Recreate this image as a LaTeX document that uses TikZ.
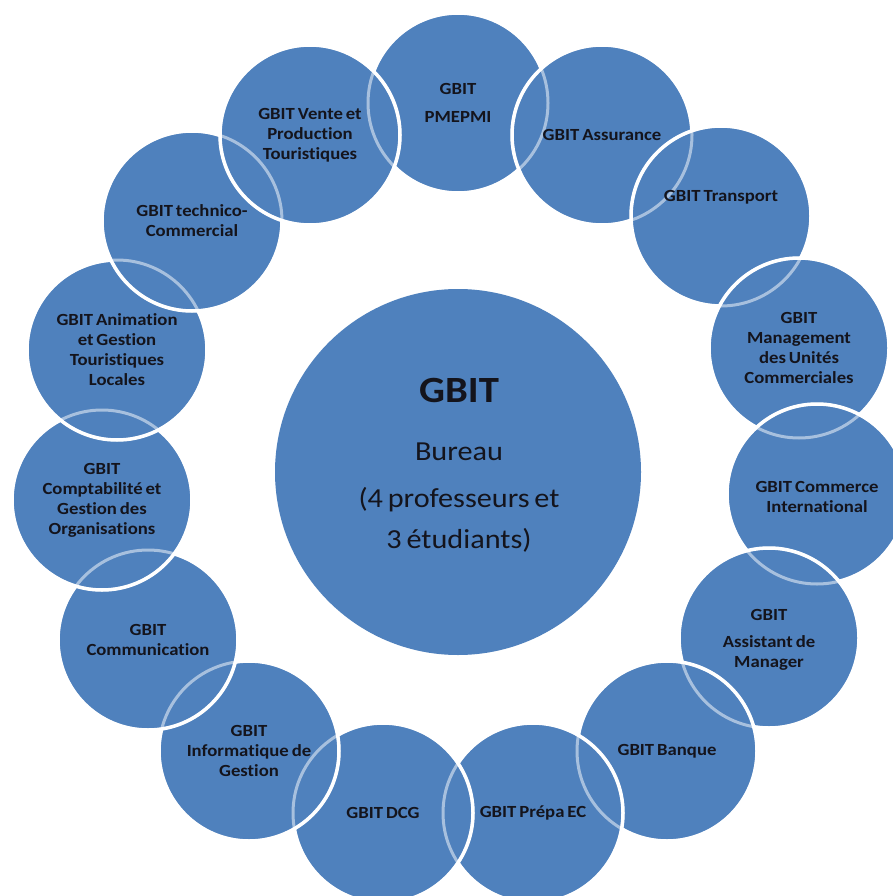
\documentclass[tikz,border=0pt]{standalone}
\usepackage{fontspec}
\setmainfont{Carlito}
\newfontfamily\gbfont{Carlito}[FakeStretch=1.1, WordSpace=0.7, Ligatures=NoCommon]
\definecolor{gbblue}{RGB}{79,129,189}
\definecolor{gbtext}{RGB}{20,20,28}
\tikzset{
  sat/.style={circle, fill=gbblue, draw=white, line width=3.5pt, minimum size=180pt, inner sep=0pt},
  ghost/.style={draw=white, draw opacity=0.5, line width=3pt},
  lbl/.style={align=center, text=gbtext, inner sep=0pt,
    font=\gbfont\bfseries\fontsize{17}{20}\selectfont},
  big/.style={anchor=base, text=gbtext, inner sep=0pt,
    font=\gbfont\fontsize{27.5}{30}\selectfont},
  bigb/.style={anchor=base, text=gbtext, inner sep=0pt,
    font=\gbfont\bfseries\fontsize{37}{40}\selectfont}
}
\begin{document}
\begin{tikzpicture}[x=1pt,y=-1pt]
\fill[white] (0,0) rectangle (892,896);
\useasboundingbox (0,0) rectangle (892,896);
% central circle
\node[circle, fill=gbblue, minimum size=366pt, inner sep=0pt] (core) at (458,472) {};
% satellites, drawn clockwise from the top
\node[sat] (s1) at (458,103) {};
\node[sat] (s2) at (602,135) {};
\node[sat] (s3) at (721,216) {};
\node[sat] (s4) at (799,348) {};
\node[sat] (s5) at (817,494) {};
\node[sat] (s6) at (769,638) {};
\node[sat] (s7) at (667,751) {};
\node[sat] (s8) at (533,813) {};
\node[sat] (s9) at (383,813) {};
\node[sat] (s10) at (249,751) {};
\node[sat] (s11) at (148,640) {};
\node[sat] (s12) at (102,500) {};
\node[sat] (s13) at (117,350) {};
\node[sat] (s14) at (192,221) {};
\node[sat] (s15) at (310,135) {};
% faint outlines seen through the overlapping circles
\foreach \s in {s1,s2,s3,s4,s5,s6,s7,s8,s9,s10,s11,s12,s13,s14,s15}
  \draw[ghost] (\s.center) circle (90);
% labels
\node[lbl] (t1) at (s1) {GBIT\\[8pt]PMEPMI};
\node[lbl] (t2) at (s2) {GBIT Assurance};
\node[lbl] (t3) at ([yshift=19pt]s3.center) {GBIT Transport};
\node[lbl] (t4) at (s4) {GBIT\\Management\\des Unités\\Commerciales};
\node[lbl] (t5) at ([yshift=-3pt]s5.center) {GBIT Commerce\\International};
\node[lbl] (t6) at ([yshift=-2pt]s6.center) {GBIT\\[7pt]Assistant de\\Manager};
\node[lbl] (t7) at (s7) {GBIT Banque};
\node[lbl] (t8) at (s8) {GBIT Prépa EC};
\node[lbl] (t9) at (s9) {GBIT DCG};
\node[lbl] (t10) at (s10) {GBIT\\Informatique de\\Gestion};
\node[lbl] (t11) at (s11) {GBIT\\Communication};
\node[lbl] (t12) at (s12) {GBIT\\Comptabilité et\\Gestion des\\Organisations};
\node[lbl] (t13) at (s13) {GBIT Animation\\et Gestion\\Touristiques\\Locales};
\node[lbl] (t14) at (s14) {GBIT technico-\\Commercial};
\node[lbl] (t15) at (s15) {GBIT Vente et\\Production\\Touristiques};
% central text
\node[bigb] (c1) at (459,402) {GBIT};
\node[big] (c2) at (459,460) {Bureau};
\node[big] (c3) at (459,507) {(4 professeurs et};
\node[big] (c4) at (459,548) {3 étudiants)};
\end{tikzpicture}
\end{document}
